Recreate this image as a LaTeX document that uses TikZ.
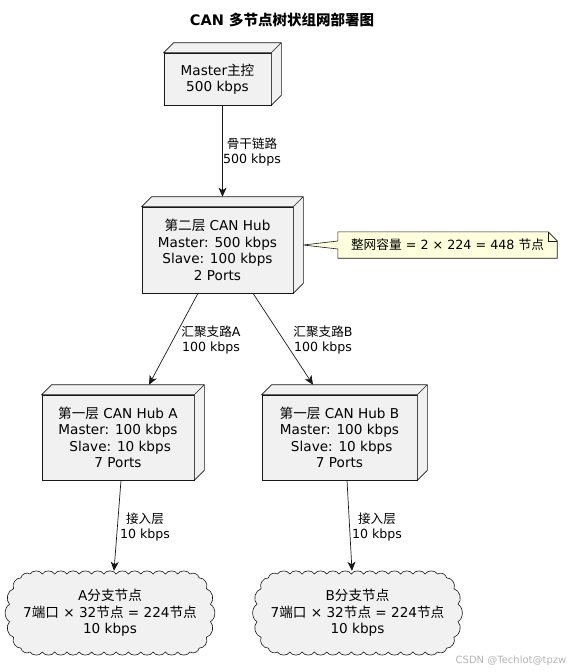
\documentclass[tikz,border=0pt]{standalone}
\usepackage{fontspec}
\setmainfont{DejaVu Sans}
\newfontfamily\cjk{Noto Sans CJK SC}
\usepackage{xcolor}
\definecolor{BoxGray}{HTML}{F1F1F1}
\definecolor{LineDark}{HTML}{181818}
\definecolor{NoteYellow}{HTML}{FEFFDD}
\definecolor{MarkGray}{HTML}{B4B4B4}
\usetikzlibrary{arrows.meta, calc, backgrounds}

\tikzset{
  hubbox/.style={draw=LineDark, fill=BoxGray, line width=0.6pt, align=center,
                 inner sep=2pt, font=\fontsize{13.6}{16.5}\selectfont},
  branch/.style={align=center, inner sep=0pt, minimum width=200pt, minimum height=80pt,
                 font=\fontsize{13.6}{16.5}\selectfont},
  branchcloud/.pic={
    \draw[draw=LineDark, fill=BoxGray, line width=0.6pt] (-80,-39)
      foreach \i in {1,...,13} { to[bend left=60] ({-80+\i*160/13},-39) }
      foreach \i in {1,...,7} { to[bend left=60] ({80+21*sin(\i*180/7)},{-39*cos(\i*180/7)}) }
      foreach \i in {1,...,13} { to[bend left=60] ({80-\i*160/13},39) }
      foreach \i in {1,...,7} { to[bend left=60] ({-80-21*sin(\i*180/7)},{39*cos(\i*180/7)}) }
      -- cycle;
  },
  link/.style={draw=LineDark, line width=0.7pt, -{Stealth[length=9pt, width=8pt, inset=2.5pt]}},
  linklabel/.style={align=center, font=\fontsize{12.6}{15}\selectfont},
  memo/.style={draw=LineDark, fill=NoteYellow, line width=0.6pt},
}

\begin{document}
\begin{tikzpicture}[x=1pt, y=-1pt]
  \useasboundingbox (0,0) rectangle (570,672);

  \node (title) at (282,20) {\fontsize{14.5}{17}\selectfont\bfseries CAN {\cjk\bfseries 多节点树状组网部署图}};

  % hubs
  \node[hubbox, minimum width=107pt, minimum height=52pt] (master) at (217.5,79)
    {Master{\cjk 主控}\\500 kbps};
  \node[hubbox, minimum width=151pt, minimum height=86pt] (hubtwo) at (217.5,250)
    {{\cjk 第二层} CAN Hub\\Master: 500 kbps\\Slave: 100 kbps\\2 Ports};
  \node[hubbox, minimum width=152pt, minimum height=85pt] (huba) at (118,437.5)
    {{\cjk 第一层} CAN Hub A\\Master: 100 kbps\\\hspace*{0.32em}Slave: 10 kbps\\7 Ports};
  \node[hubbox, minimum width=155pt, minimum height=85pt] (hubb) at (339.5,437.5)
    {{\cjk 第一层} CAN Hub B\\Master: 100 kbps\\\hspace*{0.32em}Slave: 10 kbps\\7 Ports};

  \foreach \n in {master,hubtwo,huba,hubb}
    \draw[draw=LineDark, fill=BoxGray, line width=0.6pt]
      (\n.north west) -- ++(10,-10) -- ($(\n.north east)+(10,-10)$)
      -- ($(\n.south east)+(10,-10)$) -- (\n.south east) -- (\n.north east) -- cycle
      (\n.north east) -- ++(10,-10);

  % branches
  \pic at (110,613) {branchcloud};
  \node[branch] (brancha) at (110,613)
    {A{\cjk 分支节点}\\7{\cjk 端口} × 32{\cjk 节点} = 224{\cjk 节点}\\10 kbps};
  \pic at (357.5,613) {branchcloud};
  \node[branch] (branchb) at (357.5,613)
    {B{\cjk 分支节点}\\7{\cjk 端口} × 32{\cjk 节点} = 224{\cjk 节点}\\10 kbps};

  % note
  \node[inner sep=0pt, minimum width=219pt, minimum height=26pt,
        font=\fontsize{12.7}{15}\selectfont] (note) at (447.5,245)
    {{\cjk 整网容量} = 2 × 224 = 448 {\cjk 节点}\hspace{8pt}};
  \begin{scope}[on background layer]
    \draw[memo] (note.north west) -- ([xshift=-9pt]note.north east)
      -- ([yshift=-9pt]note.north east) -- (note.south east) -- (note.south west)
      -- ([yshift=-4pt]note.west) -- ([xshift=10pt, yshift=5pt]hubtwo.east)
      -- ([yshift=4pt]note.west) -- cycle;
  \end{scope}
  \draw[memo, fill=none] ([xshift=-9pt]note.north east) |- ([yshift=-9pt]note.north east);

  % links
  \draw[link] ([xshift=5pt]master.south) -- ([xshift=5pt, yshift=10pt]hubtwo.north);
  \draw[link] ([xshift=-19.5pt]hubtwo.south) -- ([xshift=31pt, yshift=10pt]huba.north);
  \draw[link] ([xshift=35.5pt]hubtwo.south) -- ([xshift=-26.5pt, yshift=10pt]hubb.north);
  \draw[link] ([xshift=3pt]huba.south) -- ([xshift=4pt, yshift=2pt]brancha.north);
  \draw[link] ([xshift=7.5pt]hubb.south) -- ([xshift=-5.5pt, yshift=2pt]branchb.north);

  \node[linklabel] (lbkbone) at (252,152) {{\cjk 骨干链路}\\500 kbps};
  \node[linklabel] (lbaggra) at (211,340) {{\cjk 汇聚支路}A\\100 kbps};
  \node[linklabel] (lbaggrb) at (323,340) {{\cjk 汇聚支路}B\\100 kbps};
  \node[linklabel] (lbaccsa) at (145,527) {{\cjk 接入层}\\10 kbps};
  \node[linklabel] (lbaccsb) at (377,527) {{\cjk 接入层}\\10 kbps};

  \node[text=MarkGray, font=\fontsize{10}{12}\selectfont] (mark) at (511,661) {CSDN @Techlot@tpzw};
\end{tikzpicture}
\end{document}
